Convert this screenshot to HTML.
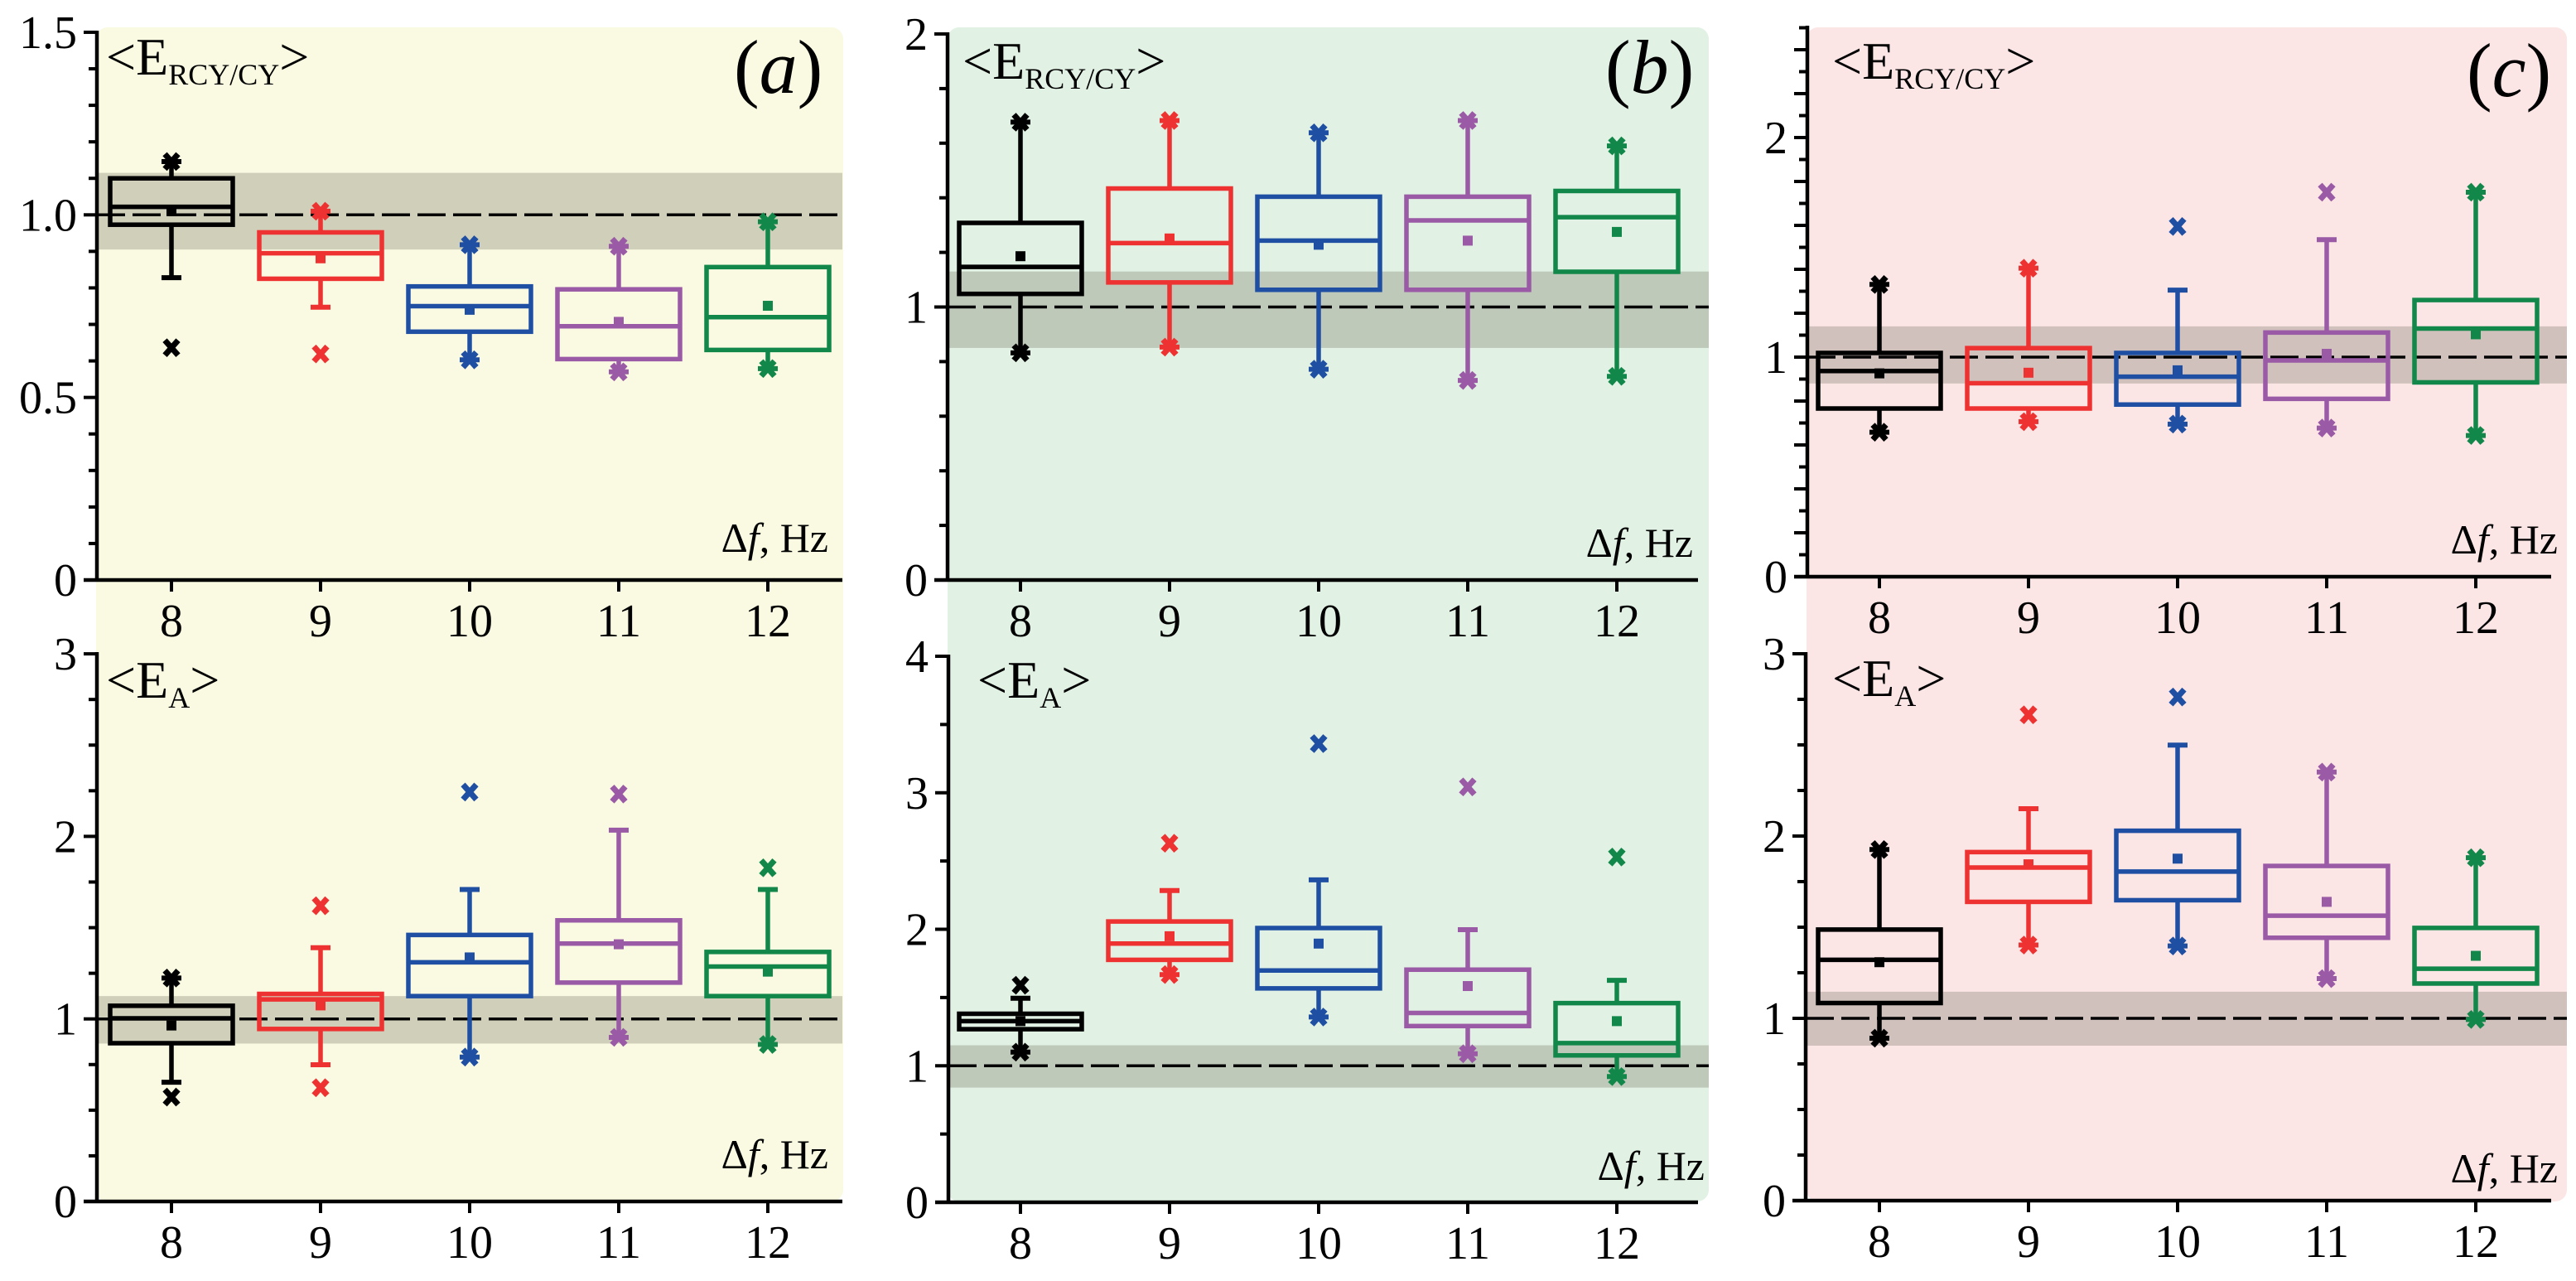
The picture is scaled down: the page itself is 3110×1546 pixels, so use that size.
<!DOCTYPE html>
<html><head><meta charset="utf-8"><style>
html,body{margin:0;padding:0;background:#fff;}
svg{display:block;}
svg text{font-family:"Liberation Serif","Times New Roman",serif;}
</style></head><body>
<svg id="fig" width="3110" height="1546" viewBox="0 0 3110 1546" xmlns="http://www.w3.org/2000/svg" font-family="Liberation Serif, serif"></svg>
<script>
// ---- data (q1, q3, median, mean, whisker low/high, min/max markers) per Δf = 8..12 ----
const categories = [8, 9, 10, 11, 12];
const colors = ["#000000", "#ee3131", "#1f4fa3", "#9a5aa6", "#12874a"];

const aTopQ1 = [0.973, 0.825, 0.680, 0.605, 0.630];
const aTopQ3 = [1.100, 0.952, 0.804, 0.796, 0.857];
const aTopMed = [1.022, 0.895, 0.750, 0.695, 0.720];
const aTopMean = [1.010, 0.881, 0.740, 0.707, 0.751];
const aTopWLo = [0.828, 0.747, 0.603, 0.570, 0.579];
const aTopWHi = [1.146, 1.010, 0.918, 0.914, 0.981];
const aTopMin = [0.636, 0.619, 0.603, 0.570, 0.579];
const aTopMax = [1.146, 1.010, 0.918, 0.914, 0.981];

const aBotQ1 = [0.867, 0.945, 1.125, 1.199, 1.125];
const aBotQ3 = [1.072, 1.137, 1.460, 1.540, 1.367];
const aBotMed = [1.003, 1.107, 1.310, 1.413, 1.287];
const aBotMean = [0.964, 1.074, 1.337, 1.409, 1.259];
const aBotWLo = [0.653, 0.749, 0.791, 0.899, 0.860];
const aBotWHi = [1.224, 1.390, 1.709, 2.034, 1.709];
const aBotMin = [0.572, 0.623, 0.791, 0.899, 0.860];
const aBotMax = [1.224, 1.620, 2.243, 2.232, 1.828];

const bTopQ1 = [1.048, 1.090, 1.063, 1.063, 1.129];
const bTopQ3 = [1.308, 1.434, 1.404, 1.404, 1.425];
const bTopMed = [1.147, 1.234, 1.243, 1.317, 1.329];
const bTopMean = [1.186, 1.251, 1.228, 1.243, 1.275];
const bTopWLo = [0.832, 0.853, 0.772, 0.731, 0.746];
const bTopWHi = [1.677, 1.683, 1.638, 1.683, 1.590];
const bTopMin = [0.832, 0.853, 0.772, 0.731, 0.746];
const bTopMax = [1.677, 1.683, 1.638, 1.683, 1.590];

const bBotQ1 = [1.268, 1.776, 1.567, 1.291, 1.076];
const bBotQ3 = [1.381, 2.057, 2.009, 1.704, 1.459];
const bBotMed = [1.327, 1.895, 1.698, 1.387, 1.166];
const bBotMean = [1.327, 1.949, 1.895, 1.584, 1.327];
const bBotWLo = [1.100, 1.668, 1.357, 1.088, 0.921];
const bBotWHi = [1.495, 2.284, 2.362, 1.997, 1.626];
const bBotMin = [1.100, 1.668, 1.357, 1.088, 0.921];
const bBotMax = [1.590, 2.630, 3.360, 3.043, 2.529];

const cTopQ1 = [0.766, 0.766, 0.784, 0.810, 0.885];
const cTopQ3 = [1.019, 1.041, 1.019, 1.112, 1.260];
const cTopMed = [0.937, 0.881, 0.911, 0.985, 1.130];
const cTopMean = [0.926, 0.929, 0.940, 1.015, 1.104];
const cTopWLo = [0.658, 0.706, 0.695, 0.677, 0.643];
const cTopWHi = [1.331, 1.405, 1.305, 1.535, 1.751];
const cTopMin = [0.658, 0.706, 0.695, 0.677, 0.643];
const cTopMax = [1.331, 1.405, 1.595, 1.751, 1.751];

const cBotQ1 = [1.084, 1.639, 1.648, 1.442, 1.191];
const cBotQ3 = [1.487, 1.912, 2.029, 1.836, 1.496];
const cBotMed = [1.321, 1.827, 1.805, 1.563, 1.272];
const cBotMean = [1.308, 1.845, 1.876, 1.639, 1.343];
const cBotWLo = [0.891, 1.402, 1.397, 1.218, 0.994];
const cBotWHi = [1.926, 2.150, 2.499, 2.351, 1.881];
const cBotMin = [0.891, 1.402, 1.397, 1.218, 0.994];
const cBotMax = [1.926, 2.665, 2.763, 2.351, 1.881];

// tick labels
const aTopTicks = ["0", "0.5", "1.0", "1.5"];
const aTopTickVals = [0, 0.5, 1.0, 1.5];
const aBotTicks = ["0", "1", "2", "3"];
const aBotTickVals = [0, 1, 2, 3];
const bTopTicks = ["0", "1", "2"];
const bTopTickVals = [0, 1, 2];
const bBotTicks = ["0", "1", "2", "3", "4"];
const bBotTickVals = [0, 1, 2, 3, 4];
const cTopTicks = ["0", "1", "2"];
const cTopTickVals = [0, 1, 2];
const cBotTicks = ["0", "1", "2", "3"];
const cBotTickVals = [0, 1, 2, 3];
// reference band around 1
const bandLo = [0.905, 0.865, 0.85, 0.84, 0.88, 0.85];
const bandHi = [1.115, 1.125, 1.13, 1.15, 1.14, 1.146];

const NS = "http://www.w3.org/2000/svg";
const svg = document.getElementById("fig");
const FONT = "Liberation Serif, Times New Roman, serif";
function el(tag, attrs, parent) {
  const e = document.createElementNS(NS, tag);
  for (const k in attrs) e.setAttribute(k, attrs[k]);
  if (tag === "text") e.setAttribute("font-family", FONT);
  (parent || svg).appendChild(e);
  return e;
}

// panel backgrounds
const bgs = [
  {x: 116, y: 33, w: 902, h: 1417, fill: "#fafae2", name: "panel-a-background"},
  {x: 1144, y: 33, w: 919, h: 1417, fill: "#e1f1e3", name: "panel-b-background"},
  {x: 2181, y: 33, w: 918, h: 1417, fill: "#fbe5e5", name: "panel-c-background"}
];
bgs.forEach(b => {
  const r = el("rect", {x: b.x, y: b.y, width: b.w, height: b.h, rx: 14, fill: b.fill});
  
  
});

const plots = [
  {id: "a-top", ax: 117, x8: 207, right: 1017, bandR: 1017, y0: 700, ppu: 440.7, top: 39, ymax: 1.5, minor: 0.1, majorLen: 0.5,
   ticks: aTopTicks, tickVals: aTopTickVals, band: 0,
   d: [aTopQ1, aTopQ3, aTopMed, aTopMean, aTopWLo, aTopWHi, aTopMin, aTopMax]},
  {id: "a-bottom", ax: 117, x8: 207, right: 1017, bandR: 1017, y0: 1450, ppu: 220.3, top: 789, ymax: 3, minor: 0.25, majorLen: 1,
   ticks: aBotTicks, tickVals: aBotTickVals, band: 1,
   d: [aBotQ1, aBotQ3, aBotMed, aBotMean, aBotWLo, aBotWHi, aBotMin, aBotMax]},
  {id: "b-top", ax: 1144, x8: 1232, right: 2050, bandR: 2063, y0: 700, ppu: 329.5, top: 41, ymax: 2, minor: 0.2, majorLen: 1,
   ticks: bTopTicks, tickVals: bTopTickVals, band: 2,
   d: [bTopQ1, bTopQ3, bTopMed, bTopMean, bTopWLo, bTopWHi, bTopMin, bTopMax]},
  {id: "b-bottom", ax: 1145, x8: 1232, right: 2050, bandR: 2063, y0: 1451, ppu: 164.75, top: 792, ymax: 4, minor: 0.5, majorLen: 1,
   ticks: bBotTicks, tickVals: bBotTickVals, band: 3,
   d: [bBotQ1, bBotQ3, bBotMed, bBotMean, bBotWLo, bBotWHi, bBotMin, bBotMax]},
  {id: "c-top", ax: 2182, x8: 2269, right: 3080, bandR: 3099, y0: 696, ppu: 265, top: 33, ymax: 2.5, minor: 0.1, majorLen: 0.2,
   ticks: cTopTicks, tickVals: cTopTickVals, band: 4,
   d: [cTopQ1, cTopQ3, cTopMed, cTopMean, cTopWLo, cTopWHi, cTopMin, cTopMax]},
  {id: "c-bottom", ax: 2180, x8: 2269, right: 3080, bandR: 3099, y0: 1449, ppu: 220, top: 789, ymax: 3, minor: 0.25, majorLen: 1,
   ticks: cBotTicks, tickVals: cBotTickVals, band: 5,
   d: [cBotQ1, cBotQ3, cBotMed, cBotMean, cBotWLo, cBotWHi, cBotMin, cBotMax]}
];

function marker(g, cx, cy, color) {
  const m = el("path", {d: `M${cx-8},${cy-9} L${cx+8},${cy+9} M${cx+8},${cy-9} L${cx-8},${cy+9}`, stroke: color, "stroke-width": 7, fill: "none"}, g);
  
  
}

plots.forEach(p => {
  const g = el("g", {});
  
  
  const X = v => p.x8 + (v - 8) * 180;
  const Y = v => p.y0 - v * p.ppu;

  const band = el("rect", {x: p.ax, y: Y(bandHi[p.band]), width: p.bandR - p.ax, height: Y(bandLo[p.band]) - Y(bandHi[p.band]), fill: "#6e6e5e", "fill-opacity": 0.3}, g);
  
  
  const dl = el("line", {x1: p.ax, x2: p.bandR, y1: Y(1), y2: Y(1), stroke: "#000", "stroke-width": 3.5, "stroke-dasharray": "34 9"}, g);
  
  

  const [q1, q3, med, mean, wlo, whi, mn, mx] = p.d;
  categories.forEach((c, i) => {
    const col = colors[i], cx = X(c), hw = 74;
    const bg = el("g", {}, g);
    
    
    el("line", {x1: cx, x2: cx, y1: Y(q3[i]), y2: Y(whi[i]), stroke: col, "stroke-width": 5.5}, bg);
    el("line", {x1: cx, x2: cx, y1: Y(q1[i]), y2: Y(wlo[i]), stroke: col, "stroke-width": 5.5}, bg);
    el("line", {x1: cx - 12, x2: cx + 12, y1: Y(whi[i]), y2: Y(whi[i]), stroke: col, "stroke-width": 6}, bg);
    el("line", {x1: cx - 12, x2: cx + 12, y1: Y(wlo[i]), y2: Y(wlo[i]), stroke: col, "stroke-width": 6}, bg);
    el("rect", {x: cx - hw, y: Y(q3[i]), width: 2 * hw, height: Y(q1[i]) - Y(q3[i]), fill: "none", stroke: col, "stroke-width": 5.5}, bg);
    el("line", {x1: cx - hw, x2: cx + hw, y1: Y(med[i]), y2: Y(med[i]), stroke: col, "stroke-width": 5.5}, bg);
    el("rect", {x: cx - 6, y: Y(mean[i]) - 6, width: 12, height: 12, fill: col}, bg);
    marker(bg, cx, Y(mn[i]), col);
    marker(bg, cx, Y(mx[i]), col);
  });

  const ya = el("line", {x1: p.ax, x2: p.ax, y1: p.top - 2, y2: p.y0, stroke: "#000", "stroke-width": 4.5}, g);
  
  
  const n = Math.round(p.ymax / p.minor);
  for (let k = 0; k <= n; k++) {
    const v = k * p.minor;
    const isMaj = Math.abs(v / p.majorLen - Math.round(v / p.majorLen)) < 1e-6;
    el("line", {x1: p.ax - (isMaj ? 16 : 10), x2: p.ax, y1: Y(v), y2: Y(v), stroke: "#000", "stroke-width": 4}, g);
  }
  p.ticks.forEach((t, i) => {
    const tx = el("text", {x: p.ax - 24, y: Y(p.tickVals[i]) + 19, "text-anchor": "end", "font-size": 56}, g);
    tx.textContent = t;
    
    
  });
  const xa = el("line", {x1: p.ax - 16, x2: p.right, y1: p.y0, y2: p.y0, stroke: "#000", "stroke-width": 4.5}, g);
  
  
  categories.forEach(c => {
    el("line", {x1: X(c), x2: X(c), y1: p.y0, y2: p.y0 + 14, stroke: "#000", "stroke-width": 4}, g);
    const tx = el("text", {x: X(c), y: p.y0 + 68, "text-anchor": "middle", "font-size": 56}, g);
    tx.textContent = c;
    
    
  });
});

function label(x, y, html, name, attrs) {
  const t = el("text", Object.assign({x: x, y: y}, attrs || {}));
  t.innerHTML = html;
  
  
  return t;
}
const ercy = '&lt;E<tspan font-size="36" dy="12">RCY/CY</tspan><tspan dy="-12">&gt;</tspan>';
const ea = '&lt;E<tspan font-size="36" dy="12">A</tspan><tspan dy="-12">&gt;</tspan>';
label(128, 90, ercy, "panel-a-top-title", {"font-size": 64});
label(1162, 95, ercy, "panel-b-top-title", {"font-size": 64});
label(2212, 95, ercy, "panel-c-top-title", {"font-size": 64});
label(128, 842, ea, "panel-a-bottom-title", {"font-size": 64});
label(1180, 842, ea, "panel-b-bottom-title", {"font-size": 64});
label(2212, 840, ea, "panel-c-bottom-title", {"font-size": 64});
label(886, 112, '(<tspan font-style="italic">a</tspan>)', "panel-a-label", {"font-size": 92});
label(1938, 112, '(<tspan font-style="italic">b</tspan>)', "panel-b-label", {"font-size": 92});
label(2978, 116, '(<tspan font-style="italic">c</tspan>)', "panel-c-label", {"font-size": 92});
const dfz = 'Δ<tspan font-style="italic">f</tspan>, Hz';
label(1000, 666, dfz, "x-axis-title", {"font-size": 50, "text-anchor": "end"});
label(2044, 672, dfz, "x-axis-title", {"font-size": 50, "text-anchor": "end"});
label(3088, 668, dfz, "x-axis-title", {"font-size": 50, "text-anchor": "end"});
label(1000, 1410, dfz, "x-axis-title", {"font-size": 50, "text-anchor": "end"});
label(2058, 1424, dfz, "x-axis-title", {"font-size": 50, "text-anchor": "end"});
label(3088, 1427, dfz, "x-axis-title", {"font-size": 50, "text-anchor": "end"});
</script>
</body></html>
